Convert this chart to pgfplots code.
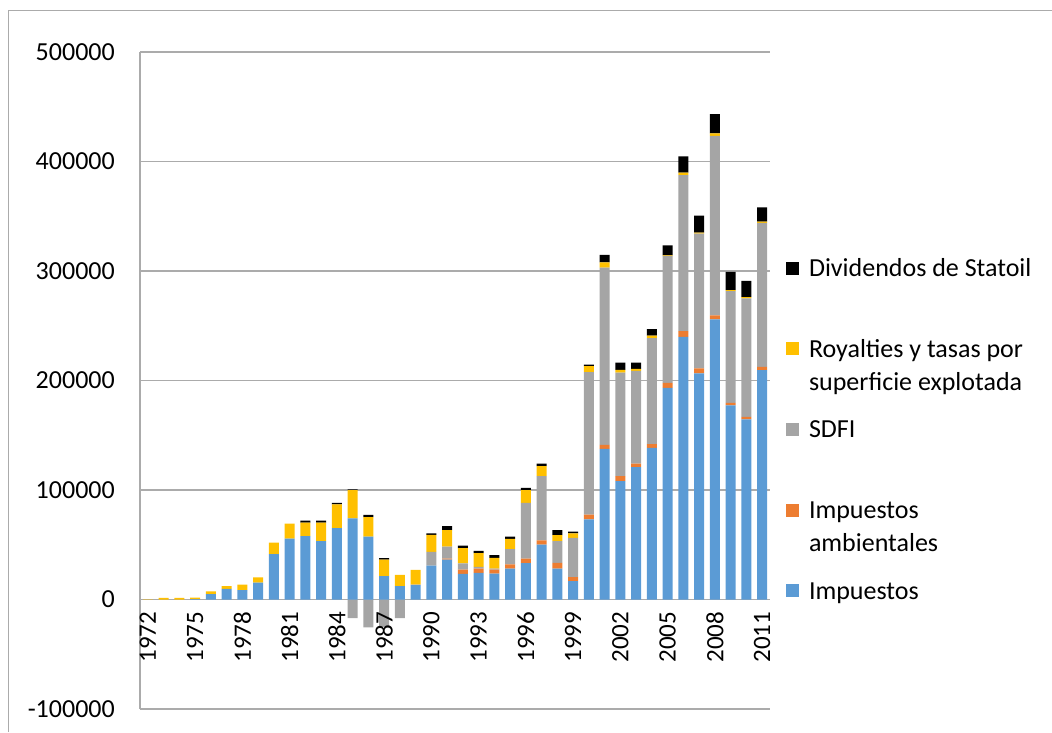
\documentclass[border=0pt]{standalone}
\usepackage{fontspec}
\setmainfont{Carlito}
\usepackage{pgfplots}
\pgfplotsset{compat=1.18}
\usepackage{pgfplotstable}

\definecolor{cImp}{HTML}{5B9BD5}
\definecolor{cAmb}{HTML}{ED7D31}
\definecolor{cSDFI}{HTML}{A5A5A5}
\definecolor{cRoy}{HTML}{FFC000}
\definecolor{cDiv}{HTML}{000000}
\definecolor{cGrid}{HTML}{ABABAB}

\pgfplotstableread{
year imp amb sdfi roy div
1972 0 0 0 200 0
1973 0 0 0 1500 0
1974 0 0 0 1500 0
1975 300 0 0 1500 0
1976 5000 0 0 2500 0
1977 9700 0 0 2500 0
1978 8500 0 0 5200 0
1979 15500 0 0 4700 0
1980 41400 0 0 10600 0
1981 55700 0 0 13700 0
1982 57800 0 0 12500 1800
1983 53300 0 0 17000 1700
1984 65100 0 0 21700 1500
1985 74000 0 0 25800 700
1986 57500 0 0 17700 2100
1987 21300 0 0 15200 1200
1988 12200 0 0 10300 0
1989 13100 0 500 13500 0
1990 31000 0 12500 15500 1300
1991 36500 900 11000 15000 3700
1992 23400 4000 5500 14000 2400
1993 24300 4000 1500 12500 2100
1994 23700 3700 700 10000 2500
1995 28300 3700 14000 9400 2100
1996 33200 4200 50900 11500 2200
1997 50200 3700 58700 9200 2400
1998 28300 5200 19800 5500 4500
1999 16700 3700 35900 4000 1800
2000 73100 4500 130000 5500 1500
2001 137600 3600 162000 4600 7000
2002 108100 4500 94700 2400 6700
2003 120900 3300 84500 2000 5700
2004 138500 3400 96800 2400 5800
2005 193300 4600 115800 500 9300
2006 239900 5200 142400 2400 14700
2007 206400 4600 123100 1000 15500
2008 255800 3700 164000 2100 17700
2009 177200 2400 102100 900 16500
2010 164400 2400 108200 1200 14700
2011 209500 3000 131400 1200 13100
}\datatable

\pgfplotstableread{
year sdfineg
1985 -17000
1986 -25500
1987 -25000
1988 -17000
}\negtable

\pgfplotsset{
  base/.style={
    width=630pt, height=657pt, scale only axis,
    xmin=1971.5, xmax=2011.5, ymin=-100000, ymax=500000,
    at={(140pt,23pt)}, anchor=south west,
  }
}

\begin{document}
\begin{tikzpicture}
\path[use as bounding box] (0pt,0pt) rectangle (1052pt,732pt);
\draw[cGrid, line width=1.2pt] (8.5pt,0pt) -- (8.5pt,721.5pt) -- (1052pt,721.5pt);

% negative SDFI values (drawn first so tick labels lie on top)
\begin{axis}[base, hide axis, ybar, bar width=9.8pt]
\addplot[fill=cSDFI, draw=none] table[x=year, y=sdfineg] {\negtable};
\end{axis}

\begin{axis}[base, ybar stacked, bar width=9.8pt,
  axis x line*=middle, axis y line*=left,
  axis line style={cGrid, line width=1.3pt},
  ymajorgrids, grid style={cGrid, line width=1.3pt},
  major tick length=0pt,
  xtick={1972,1975,...,2011},
  ytick={-100000,0,100000,200000,300000,400000,500000},
  scaled y ticks=false,
  /pgf/number format/fixed, /pgf/number format/precision=0,
  /pgf/number format/1000 sep={}, /pgf/number format/assume math mode=true,
  xticklabel style={rotate=90, anchor=east, inner sep=0pt, font=\fontsize{25}{30}\selectfont},
  xticklabel shift=12pt,
  yticklabel style={anchor=east, inner sep=0pt, font=\fontsize{26}{31}\selectfont},
  yticklabel shift=25pt,
  reverse legend,
  legend cell align=left,
  legend image code/.code={\fill[#1] (0pt,-6.5pt) rectangle (13pt,6.5pt);},
  legend style={at={(1.0254,0.6992)}, anchor=north west, draw=none, fill=none,
    inner sep=0pt, outer sep=0pt, row sep=43.9pt, column sep=10pt,
    font=\fontsize{26}{33}\selectfont,
    nodes={inner sep=0pt, outer sep=0pt, text depth={}}},
]
\addplot[fill=cImp, draw=none] table[x=year, y=imp] {\datatable};
\addlegendentry{\rule[-10pt]{0pt}{36.8pt}Impuestos}
\addplot[fill=cAmb, draw=none] table[x=year, y=amb] {\datatable};
\addlegendentry{\rule[-10pt]{0pt}{36.8pt}\smash{\begin{tabular}[t]{@{}l@{}}Impuestos\\ambientales\end{tabular}}}
\addplot[fill=cSDFI, draw=none] table[x=year, y=sdfi] {\datatable};
\addlegendentry{\rule[-10pt]{0pt}{36.8pt}SDFI}
\addplot[fill=cRoy, draw=none] table[x=year, y=roy] {\datatable};
\addlegendentry{\rule[-10pt]{0pt}{36.8pt}\smash{\begin{tabular}[t]{@{}l@{}}Royalties y tasas por\\superficie explotada\end{tabular}}}
\addplot[fill=cDiv, draw=none] table[x=year, y=div] {\datatable};
\addlegendentry{\rule[-10pt]{0pt}{36.8pt}Dividendos de Statoil}
\end{axis}
\end{tikzpicture}
\end{document}
